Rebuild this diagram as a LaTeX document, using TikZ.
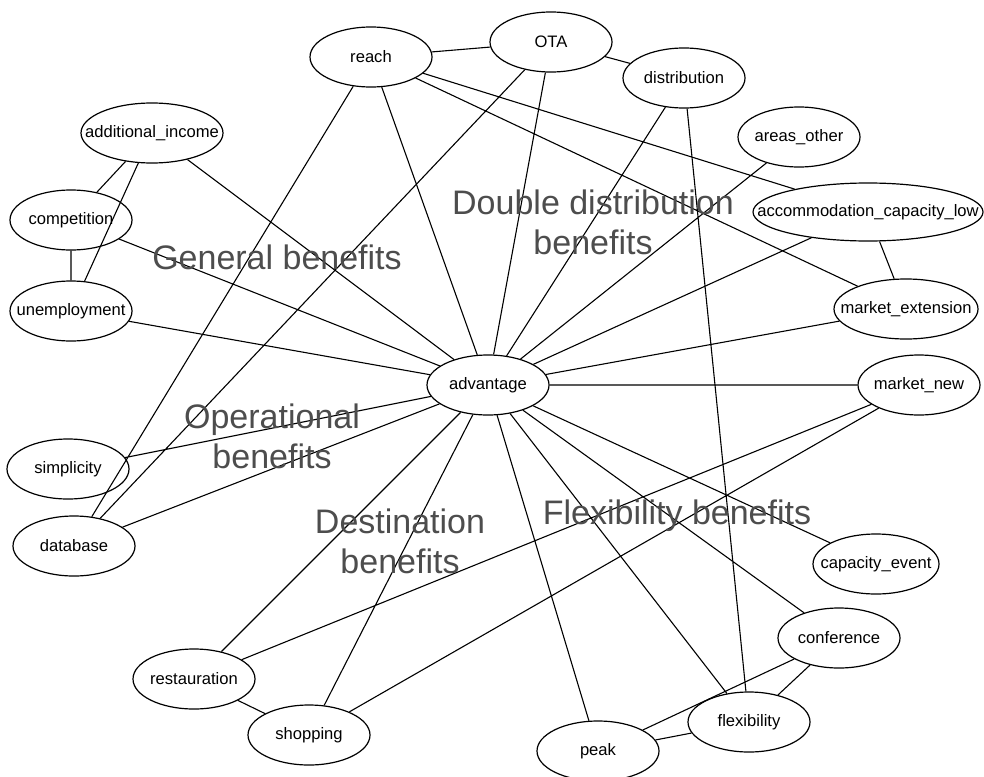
\documentclass[tikz,border=0pt]{standalone}
\usepackage{fontspec}
\setmainfont{Liberation Sans}
\usetikzlibrary{shapes.geometric}
\definecolor{labelgray}{RGB}{77,77,77}
\newcommand{\ntxt}[1]{\makebox[0pt][c]{#1}}
\tikzset{
  nd/.style={ellipse, draw=black, line width=1.2pt, inner sep=0pt, fill=white,
    minimum width=122pt, minimum height=60pt, font=\fontsize{16.6}{18}\selectfont},
  lnk/.style={draw=black, line width=1.1pt},
  biglab/.style={text=labelgray, font=\fontsize{34}{40}\selectfont, align=center, inner sep=0pt}
}
\begin{document}
\begin{tikzpicture}[x=1pt,y=-1pt]
\useasboundingbox (0,0) rectangle (984,776);
\fill[white] (0,0) rectangle (984,776);
% nodes
\node[nd] (reach) at (371,57) {\ntxt{reach}};
\node[nd] (ota) at (551,42) {\ntxt{OTA}};
\node[nd] (dist) at (684,78) {\ntxt{distribution}};
\node[nd] (areas) at (799,137) {\ntxt{areas\_other}};
\node[nd, minimum width=230pt, minimum height=58pt] (acc) at (868,212) {\ntxt{accommodation\_capacity\_low}};
\node[nd, minimum width=144pt] (mext) at (906,309) {\ntxt{market\_extension}};
\node[nd] (mnew) at (919,385) {\ntxt{market\_new}};
\node[nd] (adv) at (488,385) {\ntxt{advantage}};
\node[nd, minimum width=142pt] (addinc) at (152,133) {\ntxt{additional\_income}};
\node[nd] (comp) at (71,220) {\ntxt{competition}};
\node[nd] (unemp) at (71,311) {\ntxt{unemployment}};
\node[nd] (simp) at (68,469) {\ntxt{simplicity}};
\node[nd] (db) at (74,546) {\ntxt{database}};
\node[nd] (rest) at (194,679) {\ntxt{restauration}};
\node[nd] (shop) at (309,735) {\ntxt{shopping}};
\node[nd] (peak) at (598,751) {\ntxt{peak}};
\node[nd] (flex) at (749,722) {\ntxt{flexibility}};
\node[nd] (conf) at (839,638) {\ntxt{conference}};
\node[nd, minimum width=126pt] (capev) at (876,564) {\ntxt{capacity\_event}};
% edges
\path[lnk]
  (reach) -- (ota)
  (ota) -- (dist)
  (reach) -- (acc)
  (reach) -- (mext)
  (reach) -- (adv)
  (reach) -- (db)
  (ota) -- (db)
  (ota) -- (adv)
  (dist) -- (adv)
  (dist) -- (flex)
  (areas) -- (adv)
  (acc) -- (adv)
  (acc) -- (mext)
  (mext) -- (adv)
  (mnew) -- (adv)
  (mnew) -- (rest)
  (mnew) -- (shop)
  (addinc) -- (comp)
  (addinc) -- (unemp)
  (addinc) -- (adv)
  (comp) -- (unemp)
  (comp) -- (adv)
  (unemp) -- (adv)
  (simp) -- (adv)
  (db) -- (adv)
  (rest) -- (adv)
  (rest) -- (shop)
  (shop) -- (adv)
  (peak) -- (adv)
  (flex) -- (adv)
  (conf) -- (adv)
  (capev) -- (adv)
  (conf) -- (peak)
  (conf) -- (flex)
  (peak) -- (flex);
% labels
\node[biglab] (lgen) at (277,257) {General benefits};
\node[biglab] (ldd) at (593,222) {Double distribution\\benefits};
\node[biglab] (lop) at (272,436) {Operational\\benefits};
\node[biglab] (ldest) at (400,541) {Destination\\benefits};
\node[biglab] (lflex) at (677,516) {Flexibility benefits};
\end{tikzpicture}
\end{document}
